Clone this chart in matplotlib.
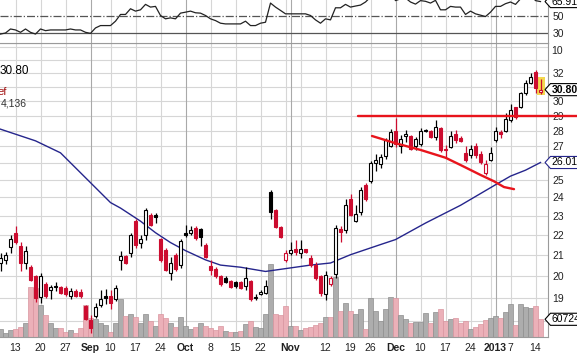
import numpy as np
import pandas as pd
import matplotlib
matplotlib.use("Agg")
import matplotlib.pyplot as plt
from matplotlib.path import Path
from matplotlib.patches import Rectangle
from matplotlib.transforms import blended_transform_factory

plt.rcParams['font.family'] = ['Liberation Sans', 'DejaVu Sans']

# ---------------- data ----------------
start_date = "2012-08-08"
end_date = "2013-01-15"
market_holidays = ["2012-09-03", "2012-10-29", "2012-10-30", "2012-11-22",
                   "2012-12-25", "2013-01-01"]

opens = [20.6, 20.72, 21.37, 22.1, 21.43, 20.62, 20.41, 19.97, 19.04, 19.6,
         19.35, 19.52, 19.47, 19.42, 19.06, 19.3, 19.25, 18.65, 18.05, 18.2,
         18.7, 19.08, 19.08, 18.93, 20.75, 20.95, 21.1, 22.7, 21.6, 22.0,
         23.05, 23.05, 21.77, 21.25, 20.13, 21.0, 20.5, 22.1, 22.07, 22.35,
         22.3, 21.5, 20.45, 20.3, 19.97, 19.9, 19.74, 19.72, 19.7, 19.52,
         19.74, 18.98, 19.15, 19.2, 24.3, 23.3, 22.4, 20.75, 21.08, 21.28,
         21.08, 21.28, 20.85, 20.5, 19.97, 19.15, 19.6, 20.1, 22.3, 22.25,
         23.9, 22.7, 23.2, 24.7, 24.9, 26.0, 25.9, 26.4, 27.03, 27.95,
         27.0, 27.68, 27.66, 27.03, 27.15, 28.06, 28.0, 27.6, 28.15, 26.85,
         26.95, 27.78, 27.5, 26.6, 26.47, 27.0, 26.53, 25.4, 26.15, 27.4,
         27.9, 28.0, 28.7, 29.55, 29.6, 30.54, 31.28, 32.1, 30.6]
highs = [21.1, 21.15, 22.0, 22.45, 21.62, 21.43, 20.5, 20.05, 20.15, 19.7,
         19.58, 19.7, 19.55, 19.55, 19.42, 19.4, 19.38, 18.7, 18.27, 18.77,
         19.35, 19.4, 19.35, 19.58, 21.16, 21.0, 22.1, 22.8, 22.0, 23.4,
         23.15, 23.15, 21.82, 21.35, 20.9, 21.1, 21.8, 22.5, 22.45, 22.45,
         22.35, 21.6, 20.75, 20.4, 20.05, 19.97, 19.8, 19.78, 19.75, 20.4,
         19.82, 19.15, 19.35, 19.82, 24.4, 23.35, 22.45, 21.25, 21.65, 21.75,
         21.75, 21.3, 20.97, 20.66, 20.05, 20.2, 19.97, 22.5, 22.45, 23.9,
         24.15, 23.55, 24.6, 24.8, 26.1, 26.5, 26.5, 27.55, 28.1, 28.85,
         27.7, 28.05, 27.7, 27.6, 28.15, 28.1, 28.05, 28.7, 28.25, 27.1,
         27.95, 28.05, 27.65, 27.0, 27.1, 27.2, 26.7, 26.16, 26.95, 28.25,
         28.05, 29.15, 29.8, 29.6, 30.65, 31.5, 31.98, 32.25, 31.6]
lows = [20.2, 20.55, 21.1, 21.55, 20.2, 20.33, 19.74, 18.8, 18.78, 19.0,
        18.95, 19.3, 19.15, 19.1, 18.93, 19.05, 19.0, 18.05, 17.5, 18.13,
        18.62, 18.75, 18.52, 18.86, 20.25, 20.55, 20.9, 21.33, 21.35, 21.75,
        22.45, 22.6, 20.66, 20.2, 19.82, 20.2, 20.35, 21.9, 21.98, 21.75,
        21.45, 20.85, 20.05, 19.9, 19.52, 19.65, 19.45, 19.45, 19.4, 19.35,
        18.85, 18.9, 19.12, 19.15, 22.8, 22.35, 21.85, 20.66, 21.0, 21.0,
        20.85, 21.1, 20.42, 19.8, 19.1, 18.9, 19.55, 19.9, 21.65, 22.1,
        22.95, 22.65, 23.05, 23.8, 24.8, 25.5, 25.7, 26.25, 26.95, 26.95,
        26.6, 27.3, 26.8, 26.8, 27.05, 27.9, 27.55, 27.4, 26.65, 26.3,
        26.9, 27.2, 27.25, 26.06, 26.3, 26.3, 25.9, 25.27, 26.1, 27.3,
        27.55, 27.9, 28.6, 28.75, 29.5, 30.42, 31.2, 30.55, 30.5]
closes = [20.85, 21.0, 21.77, 21.62, 20.62, 21.16, 19.82, 19.0, 19.97, 19.1,
          19.47, 19.49, 19.2, 19.15, 19.32, 19.1, 19.08, 18.1, 17.72, 18.6,
          18.96, 18.98, 18.78, 19.42, 20.95, 20.62, 22.0, 21.5, 21.8, 23.3,
          22.5, 22.9, 20.75, 20.25, 20.62, 20.3, 21.67, 22.0, 22.25, 21.85,
          21.9, 20.9, 20.25, 19.97, 19.6, 19.72, 19.5, 19.52, 19.45, 19.9,
          18.95, 19.02, 19.27, 19.52, 23.2, 22.42, 21.9, 21.08, 21.22, 21.15,
          21.28, 21.15, 20.5, 19.9, 19.2, 20.05, 19.9, 22.33, 22.15, 23.55,
          23.05, 23.08, 24.4, 23.9, 26.0, 26.15, 26.35, 27.4, 27.93, 27.15,
          27.45, 27.8, 26.85, 27.45, 27.95, 27.98, 27.6, 28.25, 26.78, 26.75,
          27.66, 27.4, 27.37, 26.16, 26.85, 26.47, 26.05, 25.92, 26.58, 28.0,
          27.8, 28.78, 29.38, 28.88, 30.54, 31.3, 31.7, 30.9, 30.80]
volumes_k = [26, 13, 24, 26, 35, 47, 170, 167, 110, 75,
             49, 30, 30, 18, 24, 13, 30, 110, 64, 61,
             49, 41, 18, 49, 129, 72, 79, 70, 49, 79,
             56, 38, 79, 64, 47, 33, 68, 38, 26, 35,
             49, 38, 30, 24, 38, 21, 17, 17, 21, 45,
             56, 33, 30, 79, 250, 79, 75, 106, 38, 38,
             24, 30, 35, 41, 47, 70, 70, 207, 90, 116,
             90, 79, 95, 26, 133, 89, 55, 95, 136, 133,
             75, 61, 49, 52, 52, 83, 49, 87, 95, 56,
             61, 64, 49, 56, 26, 33, 45, 58, 64, 72,
             64, 87, 113, 41, 113, 102, 98, 106, 60.724]
rsi_values = [28.8, 30.0, 34.6, 33.5, 30.8, 34.6, 30.8, 28.8, 34.6, 32.7,
              33.5, 33.5, 33.5, 33.5, 34.6, 33.5, 33.5, 30.8, 29.6, 35.8,
              38.5, 38.5, 38.5, 43.5, 51.2, 51.2, 57.7, 55.0, 56.5, 62.7,
              59.6, 60.4, 50.0, 46.2, 47.3, 46.2, 52.7, 53.8, 55.0, 53.1,
              52.7, 50.0, 46.2, 44.2, 41.2, 40.4, 40.4, 40.4, 40.4, 43.5,
              38.5, 38.5, 41.2, 42.3, 64.2, 59.6, 55.8, 51.9, 51.9, 51.9,
              51.9, 51.9, 50.0, 45.0, 41.2, 46.2, 45.0, 58.8, 58.8, 62.7,
              59.6, 60.8, 61.9, 65.4, 71.0, 72.0, 73.0, 76.0, 78.0, 67.0,
              69.0, 70.0, 65.4, 63.0, 67.0, 66.2, 64.2, 67.3, 56.5, 56.5,
              60.4, 59.6, 59.6, 51.2, 55.0, 51.9, 50.4, 48.8, 53.8, 60.4,
              60.4, 63.5, 65.4, 62.7, 69.0, 72.0, 74.0, 67.0, 65.91]
ma_index = [0, 7, 12, 16, 22, 24, 28, 31, 34, 37, 41, 44, 48, 53, 56, 62,
            66, 70, 76, 79, 85, 92, 99, 102, 105, 108]
ma_values = [28.1, 27.35, 26.6, 25.4, 23.7, 23.4, 22.7, 22.1, 21.6, 21.2,
             20.75, 20.5, 20.4, 20.2, 20.3, 20.5, 20.6, 21.0, 21.5, 21.75,
             22.6, 23.55, 24.7, 25.2, 25.55, 26.01]
resistance_level = 29.0
resistance_start = 71.4
neckline_index = [74.3, 79, 84, 89, 92, 96, 98.7, 100.7, 102.7]
neckline_price = [27.66, 27.2, 26.78, 26.3, 25.86, 25.27, 24.9, 24.57, 24.45]

tick_dates = ["2012-08-13", "2012-08-20", "2012-08-27", "2012-09-04", "2012-09-10",
              "2012-09-17", "2012-09-24", "2012-10-01", "2012-10-08", "2012-10-15",
              "2012-10-22", "2012-11-01", "2012-11-12", "2012-11-19", "2012-11-26",
              "2012-12-03", "2012-12-10", "2012-12-17", "2012-12-24", "2013-01-02",
              "2013-01-07", "2013-01-14"]
tick_labels = ["13", "20", "27", "Sep", "10", "17", "24", "Oct", "8", "15", "22",
               "Nov", "12", "19", "26", "Dec", "10", "17", "24", "2013", "7", "14"]
bold_labels = ["Sep", "Oct", "Nov", "Dec", "2013"]
price_ticks = [19, 20, 21, 22, 23, 24, 25, 27, 28, 29, 30, 32]
rsi_ticks = [50, 30, 10]
last_close_label = "30.80"
ma_label = "26.01"
volume_label = "60724"
rsi_label = "65.91"

# ---------------- calendar ----------------
dates = pd.bdate_range(start_date, end_date)
dates = dates[~dates.isin(pd.to_datetime(market_holidays))]
idx = np.arange(len(dates))
O = np.array(opens); Hh = np.array(highs); L = np.array(lows); C = np.array(closes)
V = np.array(volumes_k, dtype=float)

prev = np.r_[C[0] - 0.01, C[:-1]]
up_prev = C >= prev
hollow = C > O
RED = '#cc0c2f'
edge_cols = np.where(up_prev, 'black', RED)
face_cols = np.where(hollow, 'white', edge_cols)
vol_cols = np.where(up_prev, '#adadad', '#ebb0b8')
vol_edges = np.where(up_prev, '#8e8e8e', '#d9959f')

week_starts = [i for i in range(1, len(dates))
               if dates[i].isocalendar()[1] != dates[i - 1].isocalendar()[1]]
month_starts = [i for i in range(1, len(dates)) if dates[i].month != dates[i - 1].month]

# ---------------- figure ----------------
W, Hpx = 577, 356
fig = plt.figure(figsize=(W / 100, Hpx / 100), dpi=100)


def px_rect(x0, y0, x1, y1):
    return [x0 / W, 1 - y1 / Hpx, (x1 - x0) / W, (y1 - y0) / Hpx]


AXW = 548
ax = fig.add_axes(px_rect(0, 43, AXW, 337))
axr = fig.add_axes(px_rect(0, 0, AXW, 43), sharex=ax)

XMIN, XMAX = -0.1, 109.5
GRID = '#d6d6d6'
MGRID = '#a9a9a9'
FS = 7.5

# main price panel
ax.set_yscale('log')
ax.set_xlim(XMIN, XMAX)
ax.set_ylim(17.35, 34.32)
for p in range(17, 35):
    ax.axhline(p, color=GRID, lw=0.8, zorder=0)
for i in sorted(set(week_starts) | set(month_starts)):
    col = MGRID if i in month_starts else GRID
    ax.axvline(i, color=col, lw=0.8, zorder=0)
    axr.axvline(i, color=col, lw=0.8, zorder=0)

# volume bars in lower part (axes-fraction heights)
VMAX = 1008.0
vtrans = blended_transform_factory(ax.transData, ax.transAxes)
ax.bar(idx, V / VMAX, width=0.88, bottom=0, color=vol_cols, edgecolor=vol_edges,
       linewidth=0.5, transform=vtrans, zorder=1)

# moving average
ax.plot(ma_index, ma_values, color='#25258c', lw=1.0, zorder=2)

# highlight last candle
last = len(C) - 1
ax.add_patch(Rectangle((last - 0.8, L[last] - 0.08), 1.6, Hh[last] - L[last] + 0.16,
                       facecolor='#f3d84f', edgecolor='none', zorder=2.5))

# candles
ax.vlines(idx, L, Hh, colors=edge_cols, lw=0.9, zorder=3)
body_h = np.maximum(np.abs(C - O), 0.02)
ax.bar(idx, body_h, bottom=np.minimum(O, C), width=0.66, color=face_cols,
       edgecolor=edge_cols, linewidth=0.8, zorder=4)

# annotations
ax.plot([resistance_start, 115.4], [resistance_level, resistance_level],
        color='#e8141c', lw=1.7, zorder=5, clip_on=False, solid_capstyle='round')
ax.plot(neckline_index, neckline_price, color='#e8141c', lw=1.7, zorder=5,
        solid_capstyle='round')

# axes styling
ax.set_yticks(price_ticks)
ax.set_yticklabels([str(t) for t in price_ticks])
ax.yaxis.set_minor_locator(matplotlib.ticker.NullLocator())
ax.yaxis.tick_right()
ax.tick_params(axis='y', length=0, pad=3, labelsize=FS, colors='#222222')
tick_idx = [dates.get_loc(pd.Timestamp(d)) for d in tick_dates]
ax.set_xticks(tick_idx)
ax.set_xticklabels(tick_labels)
ax.tick_params(axis='x', length=0, pad=4, labelsize=FS, colors='#222222')
for t in ax.get_xticklabels():
    if t.get_text() in bold_labels:
        t.set_fontweight('bold')
ax.spines['left'].set_visible(False)
ax.spines['top'].set_color('#9a9a9a')
ax.spines['right'].set_color('#9a9a9a')
ax.spines['bottom'].set_color('#9a9a9a')


def tag_box(x0, y0, width, height, mutation_size):
    pad = mutation_size * 0.1
    x0 -= pad; y0 -= pad; width += 2 * pad; height += 2 * pad
    tip = height * 0.45
    verts = [(x0, y0), (x0 + width, y0), (x0 + width, y0 + height),
             (x0, y0 + height), (x0 - tip, y0 + height / 2), (x0, y0)]
    codes = [Path.MOVETO] + [Path.LINETO] * 4 + [Path.CLOSEPOLY]
    return Path(verts, codes)


TAGX = 1.0 + 3.5 / AXW
ytrans = blended_transform_factory(ax.transAxes, ax.transData)
ax.text(TAGX, C[last], last_close_label, transform=ytrans, ha='left', va='center',
        fontsize=FS, fontweight='bold', color='black', clip_on=False, zorder=10,
        bbox=dict(boxstyle=tag_box, facecolor='white', edgecolor='black', lw=0.8))
ax.text(TAGX, ma_values[-1], ma_label, transform=ytrans, ha='left', va='center',
        fontsize=FS, color='black', clip_on=False, zorder=10,
        bbox=dict(boxstyle=tag_box, facecolor='white', edgecolor='#25258c', lw=0.8))
ax.text(TAGX, V[last] / VMAX, volume_label, transform=ax.transAxes, ha='left',
        va='center', fontsize=FS, color='black', clip_on=False, zorder=10,
        bbox=dict(boxstyle=tag_box, facecolor='white', edgecolor='black', lw=0.8))

# top-left legend fragments
fig.text(29 / W, 1 - 71 / Hpx, "30.80", ha='right', va='center', fontsize=8.5,
         color='black')
fig.text(6.5 / W, 1 - 92 / Hpx, "ef", ha='right', va='center', fontsize=8,
         color='#a01010')
fig.text(1 / W, 1 - 103 / Hpx, "4,136", ha='left', va='center', fontsize=7.5,
         color='#333333')

# RSI panel
axr.set_xlim(XMIN, XMAX)
axr.set_ylim(18.6, 67.7)
axr.axhline(50, color='#555555', lw=0.9, ls='-.', zorder=1)
axr.axhline(30, color='#555555', lw=0.9, zorder=1)
axr.plot(idx, rsi_values, color='#222222', lw=0.9, zorder=3)
axr.yaxis.tick_right()
axr.set_yticks([t for t in rsi_ticks if t >= 18.6])
axr.set_yticklabels([str(t) for t in rsi_ticks if t >= 18.6])
axr.tick_params(axis='y', length=0, pad=3, labelsize=FS, colors='#222222')
axr.tick_params(axis='x', length=0, labelbottom=False)
rtrans = blended_transform_factory(axr.transAxes, axr.transData)
axr.text(1.0 + 3 / AXW + 0.001, 10, "10", transform=rtrans, ha='left', va='center',
         fontsize=FS, color='#222222', clip_on=False)
axr.text(TAGX, rsi_values[-1], rsi_label, transform=rtrans, ha='left', va='center',
         fontsize=FS, color='black', clip_on=False, zorder=10,
         bbox=dict(boxstyle=tag_box, facecolor='white', edgecolor='black', lw=0.8))
for s in ['left', 'top']:
    axr.spines[s].set_visible(False)
axr.spines['right'].set_color('#9a9a9a')
axr.spines['bottom'].set_color('#9a9a9a')

fig.savefig('out.png', dpi=100)
